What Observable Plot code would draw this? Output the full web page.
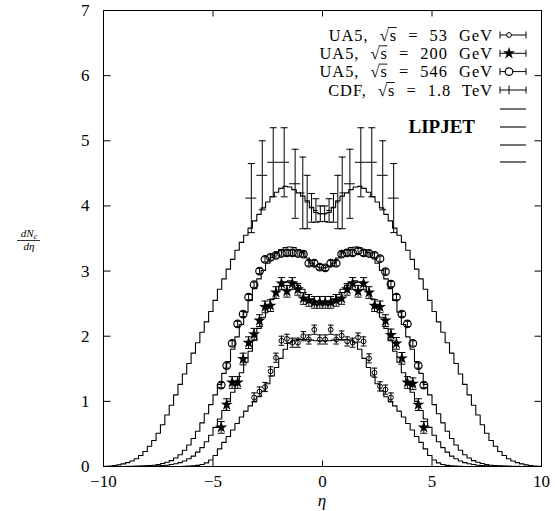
<!DOCTYPE html>
<html><head><meta charset="utf-8">
<script src="https://cdn.jsdelivr.net/npm/d3@7"></script>
<script src="https://cdn.jsdelivr.net/npm/@observablehq/plot@0.6"></script>
<style>
body{margin:0;background:#fff}
#chart svg, #chart svg text { font-family: "Liberation Serif", "Times New Roman", serif !important; }
</style>
</head><body><div id="chart"></div>
<script>
// ---------- LIPJET histograms (bin width 0.2 from eta = -10 to 10) ----------
const binStart = -10, binWidth = 0.2;
const lipjet53 = [0,0,0,0,0,0,0,0,0,0,0,0,0,0,0,0,0,
  0.001,0.003,0.005,0.01,0.017,0.03,0.055,0.10,0.17,0.27,0.37,0.46,0.56,0.66,0.76,0.85,0.93,1.00,1.07,1.16,1.27,1.39,1.52,1.66,1.80,1.90,1.94,1.95,1.95,1.95,1.94,1.93,1.93,
  1.93,1.93,1.94,1.95,1.95,1.95,1.94,1.90,1.80,1.66,1.52,1.39,1.27,1.16,1.07,1.00,0.93,0.85,0.76,0.66,0.56,0.46,0.37,0.27,0.17,0.10,0.055,0.03,0.017,0.01,0.005,0.003,0.001,
  0,0,0,0,0,0,0,0,0,0,0,0,0,0,0,0,0];
const lipjet200 = [0,0,0,0,0,0,0,
  0.001,0.002,0.003,0.005,0.007,0.01,0.014,0.02,0.03,0.042,0.06,0.085,0.12,0.16,0.22,0.29,0.38,0.48,0.60,0.73,0.86,1.00,1.14,1.29,1.44,1.60,1.77,1.94,2.12,2.29,2.44,2.57,2.68,2.77,2.83,2.85,2.83,2.78,2.72,2.64,2.57,2.52,2.50,
  2.50,2.52,2.57,2.64,2.72,2.78,2.83,2.85,2.83,2.77,2.68,2.57,2.44,2.29,2.12,1.94,1.77,1.60,1.44,1.29,1.14,1.00,0.86,0.73,0.60,0.48,0.38,0.29,0.22,0.16,0.12,0.085,0.06,0.042,0.03,0.02,0.014,0.01,0.007,0.005,0.003,0.002,0.001,
  0,0,0,0,0,0,0];
const lipjet546 = [0,0,0,0,
  0.001,0.002,0.003,0.005,0.007,0.01,0.014,0.02,0.03,0.045,0.065,0.09,0.13,0.18,0.25,0.33,0.43,0.54,0.67,0.81,0.95,1.10,1.26,1.43,1.61,1.80,1.99,2.18,2.37,2.55,2.73,2.88,3.01,3.12,3.21,3.28,3.33,3.36,3.37,3.36,3.33,3.28,3.20,3.12,3.07,3.05,
  3.05,3.07,3.12,3.20,3.28,3.33,3.36,3.37,3.36,3.33,3.28,3.21,3.12,3.01,2.88,2.73,2.55,2.37,2.18,1.99,1.80,1.61,1.43,1.26,1.10,0.95,0.81,0.67,0.54,0.43,0.33,0.25,0.18,0.13,0.09,0.065,0.045,0.03,0.02,0.014,0.01,0.007,0.005,0.003,0.002,0.001,
  0,0,0,0];
const lipjet1800 = [0.003,0.008,0.015,0.025,0.04,0.06,0.085,0.12,0.17,0.23,0.31,0.40,0.51,0.64,0.79,0.94,1.10,1.26,1.42,1.58,1.74,1.90,2.06,2.22,2.38,2.55,2.72,2.88,3.03,3.18,3.32,3.44,3.55,3.66,3.77,3.87,3.97,4.06,4.14,4.21,4.27,4.30,4.29,4.25,4.20,4.15,4.08,3.98,3.90,3.88,
  3.88,3.90,3.98,4.08,4.15,4.20,4.25,4.29,4.30,4.27,4.21,4.14,4.06,3.97,3.87,3.77,3.66,3.55,3.44,3.32,3.18,3.03,2.88,2.72,2.55,2.38,2.22,2.06,1.90,1.74,1.58,1.42,1.26,1.10,0.94,0.79,0.64,0.51,0.40,0.31,0.23,0.17,0.12,0.085,0.06,0.04,0.025,0.015,0.008,0.003];

// ---------- UA5 53 GeV ----------
const ua5_53_eta = [-3.125,-2.875,-2.625,-2.375,-2.125,-1.875,-1.625,-1.375,-1.125,-0.875,-0.625,-0.375,-0.125,
  0.125,0.375,0.625,0.875,1.125,1.375,1.625,1.875,2.125,2.375,2.625,2.875,3.125];
const ua5_53_val = [1.06,1.15,1.22,1.46,1.67,1.93,1.96,1.90,1.90,2.00,1.95,2.10,1.95,
  1.95,2.10,1.95,2.01,1.92,1.90,1.98,1.92,1.66,1.44,1.23,1.18,1.06];
const ua5_53_err = [0.07,0.07,0.07,0.07,0.07,0.07,0.07,0.07,0.07,0.07,0.07,0.07,0.07,
  0.07,0.07,0.07,0.07,0.07,0.07,0.07,0.07,0.07,0.07,0.07,0.07,0.07];

// ---------- UA5 200 GeV ----------
const ua5_200_eta = [-4.625,-4.375,-4.125,-3.875,-3.625,-3.375,-3.125,-2.875,-2.625,-2.375,-2.125,-1.875,-1.625,-1.375,-1.125,-0.875,-0.625,-0.375,-0.125,
  0.125,0.375,0.625,0.875,1.125,1.375,1.625,1.875,2.125,2.375,2.625,2.875,3.125,3.375,3.625,3.875,4.125,4.375,4.625];
const ua5_200_val = [0.60,0.95,1.29,1.29,1.65,1.90,2.03,2.24,2.45,2.47,2.67,2.81,2.69,2.81,2.72,2.58,2.55,2.52,2.52,
  2.52,2.52,2.55,2.58,2.72,2.81,2.69,2.81,2.67,2.47,2.45,2.24,2.02,1.89,1.66,1.29,1.27,0.95,0.60];
const ua5_200_err = [0.09,0.09,0.09,0.09,0.09,0.09,0.09,0.09,0.09,0.09,0.09,0.09,0.09,0.09,0.09,0.09,0.09,0.09,0.09,
  0.09,0.09,0.09,0.09,0.09,0.09,0.09,0.09,0.09,0.09,0.09,0.09,0.09,0.09,0.09,0.09,0.09,0.09,0.09];

// ---------- UA5 546 GeV ----------
const ua5_546_eta = [-4.625,-4.375,-4.125,-3.875,-3.625,-3.375,-3.125,-2.875,-2.625,-2.375,-2.125,-1.875,-1.625,-1.375,-1.125,-0.875,-0.625,-0.375,-0.125,
  0.125,0.375,0.625,0.875,1.125,1.375,1.625,1.875,2.125,2.375,2.625,2.875,3.125,3.375,3.625,3.875,4.125,4.375,4.625];
const ua5_546_val = [1.25,1.55,1.89,2.19,2.34,2.60,2.79,3.00,3.18,3.21,3.24,3.27,3.28,3.28,3.27,3.26,3.12,3.12,3.06,
  3.05,3.12,3.12,3.26,3.28,3.28,3.31,3.28,3.27,3.24,3.19,2.99,2.80,2.60,2.34,2.19,1.89,1.55,1.25];
const ua5_546_err = [0.04,0.04,0.04,0.04,0.04,0.04,0.04,0.04,0.04,0.04,0.04,0.04,0.04,0.04,0.04,0.04,0.04,0.04,0.04,
  0.04,0.04,0.04,0.04,0.04,0.04,0.04,0.04,0.04,0.04,0.04,0.04,0.04,0.04,0.04,0.04,0.04,0.04,0.04];

// ---------- CDF 1.8 TeV ----------
const cdf_eta = [-3.25,-2.75,-2.25,-1.75,-1.25,-0.9,-0.7,-0.5,-0.3,-0.1,0.1,0.3,0.5,0.7,0.9,1.25,1.75,2.25,2.75,3.25];
const cdf_val = [4.12,4.47,4.67,4.67,4.34,4.20,4.06,3.97,3.93,3.88,3.88,3.93,3.97,4.06,4.20,4.34,4.67,4.67,4.47,4.12];
const cdf_err = [0.53,0.53,0.53,0.53,0.53,0.55,0.41,0.22,0.18,0.12,0.12,0.18,0.22,0.41,0.55,0.53,0.53,0.53,0.53,0.53];
const cdf_halfWidth = [0.25,0.25,0.25,0.25,0.25,0.1,0.1,0.1,0.1,0.1,0.1,0.1,0.1,0.1,0.1,0.25,0.25,0.25,0.25,0.25];

// ---------- axes & legend text ----------
const xTicks = [-10, -5, 0, 5, 10];
const yTicks = [0, 1, 2, 3, 4, 5, 6, 7];
const legendPrefix = ["UA5, ", "UA5, ", "UA5, ", "CDF, "];
const legendSuffix = ["53 GeV", "200 GeV", "546 GeV", "1.8 TeV"];

// ---------- build tables ----------
function hist(values, series) {
  const pts = values.map((v, i) => ({x: binStart + i * binWidth, y: v, series}));
  pts.push({x: binStart + values.length * binWidth, y: values[values.length - 1], series});
  return pts;
}
const histData = [
  ...hist(lipjet53, "53"), ...hist(lipjet200, "200"), ...hist(lipjet546, "546"), ...hist(lipjet1800, "1800")
];
const pts = (eta, val, err) => eta.map((e, i) => ({eta: e, v: val[i], err: err[i]}));
const d53 = pts(ua5_53_eta, ua5_53_val, ua5_53_err);
const d200 = pts(ua5_200_eta, ua5_200_val, ua5_200_err);
const d546 = pts(ua5_546_eta, ua5_546_val, ua5_546_err);
const dcdf = cdf_eta.map((e, i) => ({eta: e, v: cdf_val[i], err: cdf_err[i], hw: cdf_halfWidth[i]}));

// custom symbols
const hline = {draw(c, s) { const w = Math.sqrt(s / Math.PI); c.moveTo(-w, 0); c.lineTo(w, 0); }};
const tickUp = {draw(c, s) { const h = Math.sqrt(s / Math.PI); c.moveTo(0, 0); c.lineTo(0, -h); }};
const tickDown = {draw(c, s) { const h = Math.sqrt(s / Math.PI); c.moveTo(0, 0); c.lineTo(0, h); }};
const tickRight = {draw(c, s) { const h = Math.sqrt(s / Math.PI); c.moveTo(0, 0); c.lineTo(h, 0); }};
const tickLeft = {draw(c, s) { const h = Math.sqrt(s / Math.PI); c.moveTo(0, 0); c.lineTo(-h, 0); }};

function errMarks(data, capR) {
  return [
    Plot.ruleX(data, {x: "eta", y1: d => d.v - d.err, y2: d => d.v + d.err, stroke: "black", strokeWidth: 1}),
    Plot.dot(data, {x: "eta", y: d => d.v + d.err, symbol: hline, r: capR, stroke: "black", fill: "none", strokeWidth: 1}),
    Plot.dot(data, {x: "eta", y: d => d.v - d.err, symbol: hline, r: capR, stroke: "black", fill: "none", strokeWidth: 1})
  ];
}

const FONT = "Liberation Serif";

const plot = Plot.plot({
  width: 556, height: 511,
  marginLeft: 103, marginRight: 15, marginTop: 10, marginBottom: 45,
  style: {fontFamily: FONT, fontSize: "17px", background: "white", color: "black"},
  x: {domain: [-10, 10]},
  y: {domain: [0, 7]},
  marks: [
    Plot.line(histData, {x: "x", y: "y", z: "series", curve: "step-after", stroke: "black", strokeWidth: 1.1}),
    ...errMarks(d53, 2.8),
    Plot.dot(d53, {x: "eta", y: "v", r: 2.4, stroke: "black", fill: "none", strokeWidth: 1}),
    ...errMarks(d200, 3.5),
    Plot.dot(d200, {x: "eta", y: "v", symbol: "star", r: 3.8, fill: "black", stroke: "none"}),
    Plot.dot(d546, {x: "eta", y: "v", r: 3.8, stroke: "black", fill: "none", strokeWidth: 1.2}),
    ...errMarks(d546, 2.8),
    ...errMarks(dcdf, 3.5),
    Plot.ruleY(dcdf, {y: "v", x1: d => d.eta - d.hw, x2: d => d.eta + d.hw, stroke: "black", strokeWidth: 1}),
    Plot.frame({stroke: "black", strokeWidth: 1}),
    Plot.dot(xTicks, {x: d => d, frameAnchor: "bottom", symbol: tickUp, r: 6, stroke: "black", fill: "none", strokeWidth: 1}),
    Plot.dot(xTicks, {x: d => d, frameAnchor: "top", symbol: tickDown, r: 6, stroke: "black", fill: "none", strokeWidth: 1}),
    Plot.dot(yTicks, {y: d => d, frameAnchor: "left", symbol: tickRight, r: 7, stroke: "black", fill: "none", strokeWidth: 1}),
    Plot.dot(yTicks, {y: d => d, frameAnchor: "right", symbol: tickLeft, r: 7, stroke: "black", fill: "none", strokeWidth: 1}),
    Plot.axisX({ticks: xTicks, tickSize: 0, tickPadding: 8, label: null, fontSize: 17}),
    Plot.axisY({ticks: yTicks, tickSize: 0, tickPadding: 14, label: null, tickFormat: d3.format("d"), fontSize: 17})
  ]
});
document.getElementById("chart").appendChild(plot);

// ---------- legend & labels overlay ----------
const svg = d3.select(plot);
const g = svg.append("g").attr("font-family", FONT).attr("fill", "black");
const rowY = [35, 53.3, 71.6, 90];
rowY.forEach((y, i) => {
  const t = g.append("text").attr("x", 493).attr("y", y + 5.5).attr("text-anchor", "end")
    .attr("font-size", 16.4).attr("letter-spacing", 1).attr("word-spacing", 6)
    .text(legendPrefix[i] + "√s = " + legendSuffix[i]);
  // vinculum over s, positioned from the rendered glyphs
  const node = t.node();
  const iRad = legendPrefix[i].length;
  const rad = node.getExtentOfChar(iRad);
  const sEnd = node.getEndPositionOfChar(iRad + 1).x;
  g.append("line").attr("x1", rad.x + rad.width - 1.8).attr("x2", sEnd - 0.5)
    .attr("y1", rad.y + 2).attr("y2", rad.y + 2).attr("stroke", "black").attr("stroke-width", 0.9);
  // error bar sample
  g.append("line").attr("x1", 500).attr("x2", 526).attr("y1", y).attr("y2", y).attr("stroke", "black");
  g.append("line").attr("x1", 500).attr("x2", 500).attr("y1", y - 3.5).attr("y2", y + 3.5).attr("stroke", "black");
  g.append("line").attr("x1", 526).attr("x2", 526).attr("y1", y - 3.5).attr("y2", y + 3.5).attr("stroke", "black");
  const mx = 509;
  if (i === 0) g.append("circle").attr("cx", mx).attr("cy", y).attr("r", 2.4).attr("fill", "white").attr("stroke", "black");
  if (i === 1) g.append("path").attr("transform", `translate(${mx},${y})`).attr("d", d3.symbol(d3.symbolStar, Math.PI * 3.8 * 3.8)()).attr("fill", "black");
  if (i === 2) g.append("circle").attr("cx", mx).attr("cy", y).attr("r", 3.8).attr("fill", "white").attr("stroke", "black").attr("stroke-width", 1.2);
  if (i === 3) g.append("line").attr("x1", mx).attr("x2", mx).attr("y1", y - 4.5).attr("y2", y + 4.5).attr("stroke", "black");
});
[109, 127, 145, 162].forEach(y => {
  g.append("line").attr("x1", 500).attr("x2", 526).attr("y1", y).attr("y2", y).attr("stroke", "black").attr("stroke-width", 1.1);
});
g.append("text").attr("x", 475).attr("y", 133).attr("text-anchor", "end").attr("font-weight", "bold")
  .attr("font-size", 19).text("LIPJET");

// x label
g.append("text").attr("x", 322).attr("y", 505.5).attr("text-anchor", "middle").attr("font-style", "italic")
  .attr("font-size", 17).text("η");
// y label as fraction dN_c / dη
const yl = g.append("text").attr("x", 29).attr("y", 237).attr("text-anchor", "middle").attr("font-style", "italic").attr("font-size", 11);
yl.append("tspan").text("dN");
yl.append("tspan").attr("font-size", 8).attr("dy", 2).text("c");
g.append("line").attr("x1", 17).attr("x2", 40).attr("y1", 240.5).attr("y2", 240.5).attr("stroke", "black").attr("stroke-width", 0.8);
g.append("text").attr("x", 29).attr("y", 250).attr("text-anchor", "middle").attr("font-style", "italic").attr("font-size", 11).text("dη");
</script>
</body></html>
